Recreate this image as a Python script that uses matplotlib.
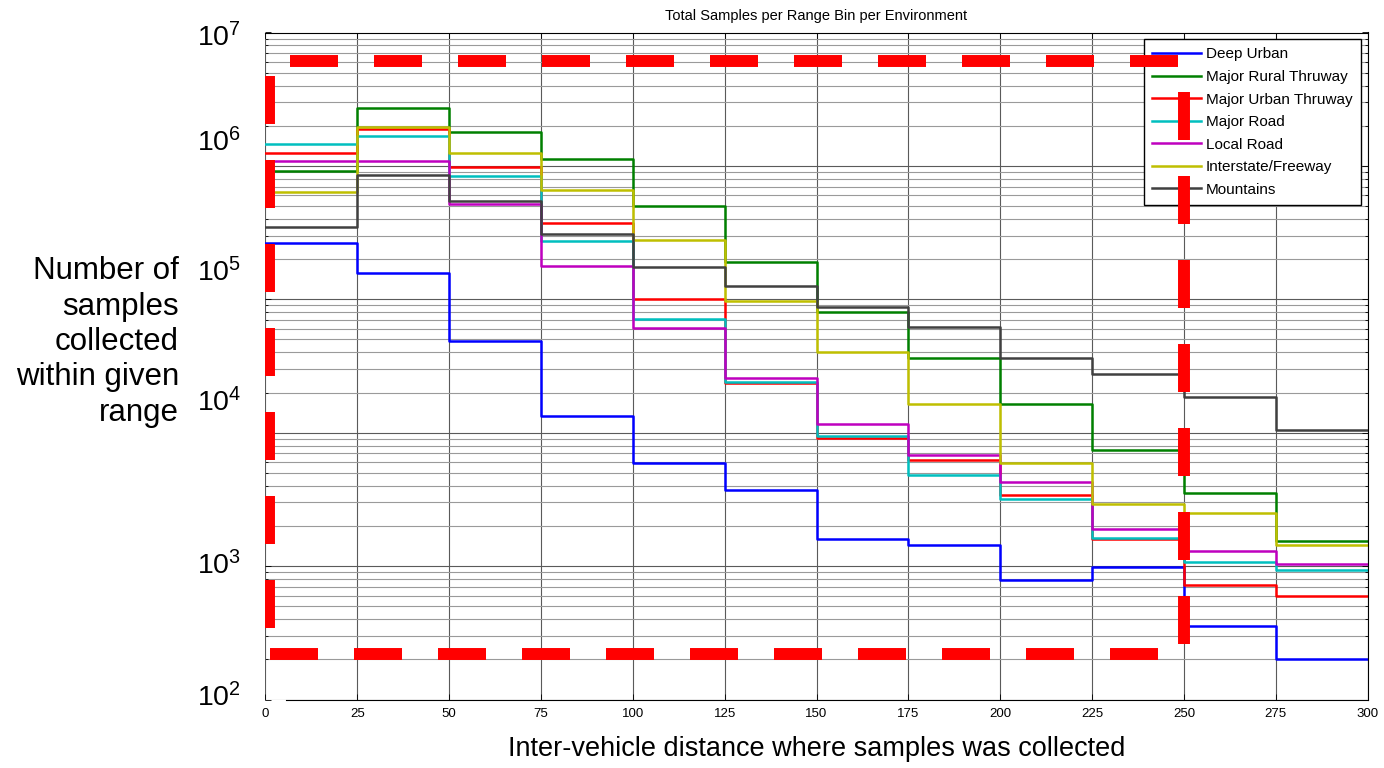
import numpy as np
import matplotlib
matplotlib.use("Agg")
import matplotlib.pyplot as plt
from matplotlib.ticker import LogLocator, NullFormatter

# samples per 25 m range bin (0-25, 25-50, ... 275-300)
bin_edges = list(range(0, 301, 25))
deep_urban = [262000, 158000, 48800, 13300, 5970, 3700, 1590, 1430, 780, 980, 357, 200]
major_rural = [919000, 2710000, 1780000, 1130000, 499000, 189000, 80000, 36000, 16300, 7470, 3530, 1550]
major_urban = [1254000, 1898000, 985000, 374000, 101000, 23500, 9190, 6210, 3390, 1590, 716, 593]
major_road = [1450000, 1673000, 843000, 273000, 70600, 23800, 9400, 4850, 3200, 1630, 1070, 940]
local_road = [1086000, 1086000, 517000, 178700, 61200, 25900, 11700, 6770, 4250, 1890, 1290, 1040]
interstate = [636000, 1965000, 1247000, 655000, 276600, 97300, 40300, 16300, 5900, 2900, 2520, 1440]
mountains = [349000, 857000, 542000, 310000, 174000, 125000, 87700, 62100, 36000, 27400, 18500, 10400]

names = ["Deep Urban", "Major Rural Thruway", "Major Urban Thruway", "Major Road",
         "Local Road", "Interstate/Freeway", "Mountains"]
series = [deep_urban, major_rural, major_urban, major_road, local_road, interstate, mountains]
colors = ["#0000ff", "#008000", "#ff0000", "#00bfbf", "#bf00bf", "#bfbf00", "#404040"]

ytick_labels = ["$\\mathregular{10^{7}}$", "$\\mathregular{10^{6}}$", "$\\mathregular{10^{5}}$",
                "$\\mathregular{10^{4}}$", "$\\mathregular{10^{3}}$", "$\\mathregular{10^{2}}$"]

# the red dashed highlight box (data coords)
box_x = [1.0, 250]
box_y = [217.6, 6.11e6]

plt.rcParams["font.family"] = ["Liberation Sans", "DejaVu Sans"]
plt.rcParams["mathtext.fontset"] = "custom"
plt.rcParams["mathtext.rm"] = "Liberation Sans"
plt.rcParams["lines.scale_dashes"] = False

W, H = 1384, 768
fig = plt.figure(figsize=(W / 100, H / 100), dpi=100)
ax = fig.add_axes([265.4 / W, 1 - 699.5 / H, (1367.7 - 265.4) / W, (699.5 - 32.5) / H])

for name, vals, col in zip(names, series, colors):
    ax.step(bin_edges, vals + [vals[-1]], where="post", color=col, lw=1.8, label=name)

ax.set_yscale("log")
ax.set_ylim(1e2, 1e7)
ax.set_xlim(0, 300)
ax.set_xticks(bin_edges)
ax.yaxis.set_major_locator(LogLocator(base=10, numticks=10))
ax.yaxis.set_minor_locator(LogLocator(base=10, subs=np.arange(2, 10), numticks=50))
ax.yaxis.set_major_formatter(NullFormatter())
ax.yaxis.set_minor_formatter(NullFormatter())

ax.grid(True, which="major", color="#5a5a5a", lw=0.8)
ax.grid(True, which="minor", axis="y", color="#9a9a9a", lw=0.8)
ax.set_axisbelow(True)
ax.tick_params(which="both", direction="in", top=True, right=True, labelsize=9.5, width=0.6)
ax.tick_params(which="major", length=4, pad=6)
ax.tick_params(which="minor", length=2.5)
ax.spines["left"].set_visible(False)
ax.spines["bottom"].set_bounds(5.5, 300)

ax.set_title("Total Samples per Range Bin per Environment", fontsize=10.5, pad=9)
ax.set_xlabel("Inter-vehicle distance where samples was collected", fontsize=19.5, labelpad=12)

leg = ax.legend(loc="upper right", fontsize=11, handlelength=3.2, handletextpad=0.35,
                labelspacing=0.56, borderpad=0.53, borderaxespad=0.45, fancybox=False,
                framealpha=1, edgecolor="black")
leg.get_frame().set_linewidth(1.0)
leg.set_zorder(5)

# red dashed box, drawn edge by edge so the dash phase matches
dash = (34.56, 25.92)
red = dict(color="red", lw=8.6, zorder=6, dash_capstyle="butt")
ax.plot(box_x, [box_y[1], box_y[1]], linestyle=(45.36, dash), **red)
ax.plot(box_x, [box_y[0], box_y[0]], linestyle=(59.76, dash), **red)
ax.plot([box_x[0], box_x[0]], [box_y[1], box_y[0]], linestyle=(49.68, dash), **red)
ax.plot([box_x[1], box_x[1]], [box_y[1], box_y[0]], linestyle=(38.16, dash), **red)

# big decade labels, placed where they sit in the original slide
label_px = [38, 143, 273, 403, 566, 698]
for s, py in zip(ytick_labels, label_px):
    fig.text(241 / W, 1 - py / H, s, ha="right", va="center", fontsize=20.5)

fig.text(179 / W, 1 - 342 / H, "Number of\nsamples\ncollected\nwithin given\nrange",
         ha="right", va="center", multialignment="right", fontsize=22.5, linespacing=1.23)

fig.savefig("out.png", dpi=100)
